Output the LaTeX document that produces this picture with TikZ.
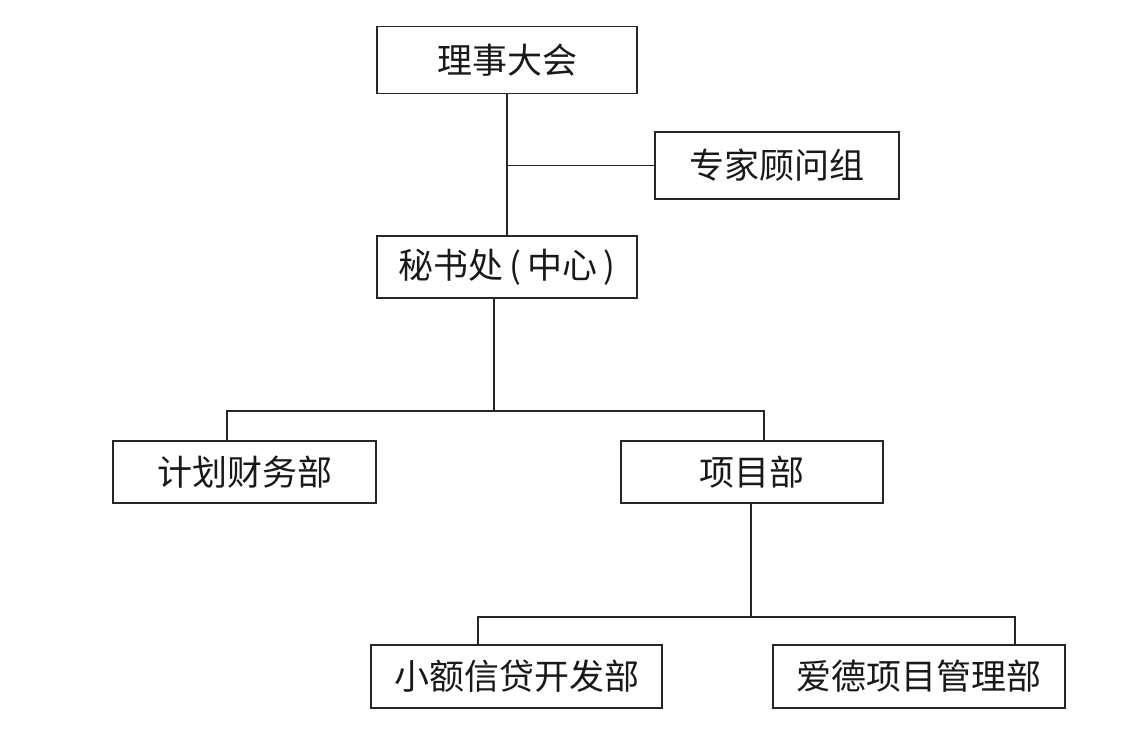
\documentclass[tikz,border=0pt]{standalone}
\usepackage{fontspec}
\newfontfamily\cjk{Noto Sans CJK SC}
\begin{document}
\begin{tikzpicture}[x=1pt,y=-1pt,
  box/.style={draw=black!85, line width=1.3pt, fill=white, inner sep=0pt, font=\cjk\fontsize{35}{35}\selectfont, text=black!90},
  conn/.style={draw=black!85, line width=1.1pt}]
\useasboundingbox[fill=white] (0,0) rectangle (1144,734);
\node[box, minimum width=260pt, minimum height=67pt] (A) at (507,60) {理事大会};
\node[box, minimum width=244pt, minimum height=67pt] (B) at (777,165.5) {专家顾问组};
\node[box, minimum width=260pt, minimum height=62pt] (C) at (507,267) {秘书处\,(\,中心\,)};
\node[box, minimum width=263pt, minimum height=62pt] (D) at (244.5,472) {计划财务部};
\node[box, minimum width=262pt, minimum height=62pt] (E) at (752,472) {项目部};
\node[box, minimum width=291pt, minimum height=63pt] (F) at (516.5,676.5) {小额信贷开发部};
\node[box, minimum width=292pt, minimum height=63pt] (G) at (919,676.5) {爱德项目管理部};
\coordinate (b1) at (494,411);
\coordinate (b2) at (751,617);
\draw[conn] (A.south) -- (C.north);
\draw[conn] (A.south |- B.west) -- (B.west);
\draw[conn] ([xshift=-13pt]C.south) -- (b1);
\draw[conn] ([xshift=-17.5pt]D.north) |- (b1) -| ([xshift=12pt]E.north);
\draw[conn] ([xshift=-1pt]E.south) -- (b2);
\draw[conn] ([xshift=-38.5pt]F.north) |- (b2) -| ([xshift=96pt]G.north);
\end{tikzpicture}
\end{document}
